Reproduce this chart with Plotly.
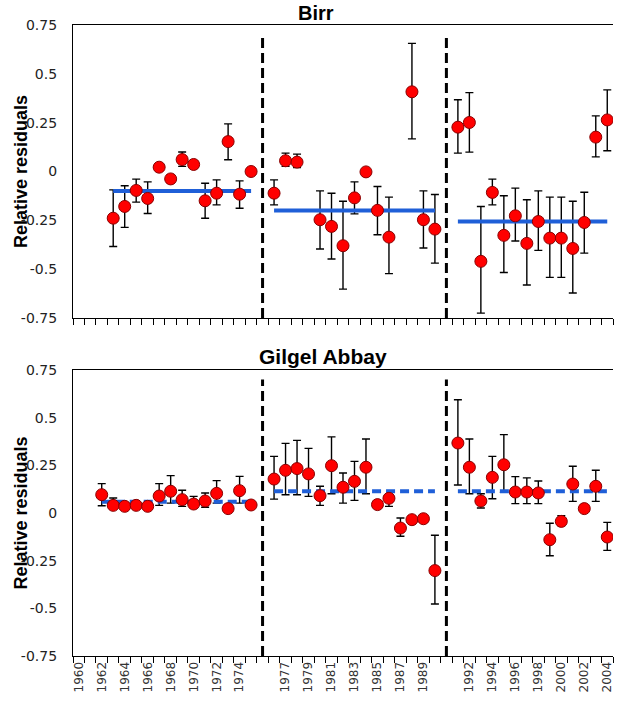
import plotly.graph_objects as go
from plotly.subplots import make_subplots

# ---------------- data ----------------
categories = ([str(y) for y in range(1960, 1976)] + [""] +
              [str(y) for y in range(1976, 1991)] + [""] +
              [str(y) for y in range(1991, 2005)])

birr_years = list(range(1963, 1979)) + list(range(1980, 1987)) + list(range(1988, 2005))
birr_values = [-0.239, -0.179, -0.097, -0.138, 0.022, -0.038, 0.061, 0.036, -0.150, -0.111,
               0.153, -0.116, 0.0, -0.111, 0.055, 0.048, -0.247, -0.281, -0.380, -0.135,
               -0.002, -0.199, -0.336, 0.408, -0.247, -0.295, 0.227, 0.251, -0.460, -0.107,
               -0.327, -0.227, -0.368, -0.256, -0.341, -0.341, -0.394, -0.261, 0.176, 0.264]
birr_upper = [-0.094, -0.073, -0.039, -0.053, 0.022, -0.017, 0.100, 0.048, -0.060, -0.043,
              0.244, -0.048, 0.0, -0.043, 0.094, 0.089, -0.099, -0.111, -0.152, -0.053,
              -0.002, -0.077, -0.131, 0.656, -0.099, -0.118, 0.367, 0.404, -0.179, -0.039,
              -0.124, -0.085, -0.145, -0.099, -0.131, -0.131, -0.152, -0.106, 0.285, 0.418]
birr_lower = [-0.384, -0.286, -0.157, -0.215, 0.022, -0.056, 0.026, 0.017, -0.239, -0.171,
              0.060, -0.188, 0.0, -0.171, 0.026, 0.020, -0.397, -0.448, -0.602, -0.217,
              -0.002, -0.324, -0.523, 0.167, -0.392, -0.469, 0.094, 0.099, -0.725, -0.171,
              -0.517, -0.356, -0.581, -0.404, -0.542, -0.542, -0.622, -0.418, 0.075, 0.106]
birr_periods = [(1963, 1975), (1976, 1990), (1991, 2004)]
birr_means = [-0.10, -0.20, -0.256]

gilgel_years = list(range(1962, 2005))
gilgel_values = [0.096, 0.040, 0.035, 0.040, 0.035, 0.089, 0.114, 0.070, 0.047, 0.063,
                 0.103, 0.023, 0.117, 0.042, 0.178, 0.224, 0.233, 0.205, 0.091, 0.248,
                 0.135, 0.166, 0.240, 0.044, 0.077, -0.079, -0.035, -0.030, -0.302, 0.367,
                 0.240, 0.063, 0.187, 0.253, 0.110, 0.110, 0.105, -0.140, -0.044, 0.152,
                 0.023, 0.140, -0.126]
gilgel_upper = [0.154, 0.079, 0.040, 0.045, 0.038, 0.154, 0.196, 0.119, 0.087, 0.105,
                0.170, 0.023, 0.192, 0.042, 0.297, 0.365, 0.381, 0.339, 0.140, 0.399,
                0.210, 0.271, 0.388, 0.055, 0.096, -0.026, -0.014, -0.009, -0.117, 0.594,
                0.388, 0.101, 0.297, 0.411, 0.191, 0.184, 0.168, -0.054, -0.014, 0.245,
                0.023, 0.224, -0.049]
gilgel_lower = [0.038, 0.026, 0.030, 0.035, 0.032, 0.040, 0.052, 0.035, 0.028, 0.030,
                0.052, 0.023, 0.052, 0.042, 0.073, 0.096, 0.096, 0.087, 0.040, 0.101,
                0.052, 0.066, 0.101, 0.035, 0.035, -0.122, -0.056, -0.049, -0.477, 0.147,
                0.101, 0.026, 0.075, 0.108, 0.049, 0.049, 0.049, -0.224, -0.066, 0.061,
                0.023, 0.061, -0.196]
gilgel_periods = [(1962, 1975), (1976, 1990), (1991, 2004)]
gilgel_means = [0.059, 0.114, 0.114]

break_positions = [i for i, c in enumerate(categories) if c == ""]
tick_positions = [i for i in range(0, len(categories), 2) if categories[i] != ""]
tick_labels = [categories[i] for i in tick_positions]

y_ticks = [0.75, 0.5, 0.25, 0, -0.25, -0.5, -0.75]
y_ticktext = ["0.75", "0.5", "0.25", "0", "-0.25", "-0.5", "-0.75"]


def pos(year):
    return categories.index(str(year))


RED = "#ff0000"
BLUE = "#1f5fd8"

# pixel layout (body margin removed by post_script)
W, H = 619, 702
X_LEFT, X_RIGHT = 72.5, 613
Y_TOP, Y_BOT = 25, 656
L, R = X_LEFT, W - X_RIGHT
T, B = Y_TOP, H - Y_BOT
plot_h = H - T - B
plot_w = W - L - R
top_dom = [(Y_BOT - 318) / plot_h, 1.0]
bot_dom = [0.0, (Y_BOT - 370) / plot_h]

fig = make_subplots(rows=2, cols=1, vertical_spacing=0.08)

panels = [
    (1, birr_years, birr_values, birr_upper, birr_lower, birr_periods, birr_means, "solid"),
    (2, gilgel_years, gilgel_values, gilgel_upper, gilgel_lower, gilgel_periods, gilgel_means, "9px,5px"),
]

for row, yrs, vals, up, lo, periods, means, dash in panels:
    xs = [pos(y) for y in yrs]
    fig.add_trace(go.Scatter(
        x=xs, y=vals, mode="markers", marker=dict(size=1, color="rgba(0,0,0,0)"),
        error_y=dict(type="data", symmetric=False,
                     array=[u - v for u, v in zip(up, vals)],
                     arrayminus=[v - l for v, l in zip(vals, lo)],
                     color="black", thickness=1.4, width=4),
        showlegend=False, hoverinfo="skip"), row=row, col=1)
    for (a, b), m in zip(periods, means):
        fig.add_trace(go.Scatter(
            x=[pos(a), pos(b)], y=[m, m], mode="lines",
            line=dict(color=BLUE, width=4, dash=dash),
            showlegend=False), row=row, col=1)
    fig.add_trace(go.Scatter(
        x=xs, y=vals, mode="markers",
        marker=dict(size=12, color=RED, line=dict(color="#8a0000", width=1)),
        showlegend=False), row=row, col=1)

for row in (1, 2):
    fig.update_xaxes(
        row=row, col=1, range=[-0.5, len(categories) - 0.5], automargin=False,
        tickmode="array", tickvals=tick_positions,
        ticktext=tick_labels if row == 2 else [""] * len(tick_positions),
        showticklabels=(row == 2), tickangle=-90, ticks="",
        tickfont=dict(family="DejaVu Sans", size=12, color="#333333"),
        minor=dict(ticks="outside", tick0=-0.5, dtick=1, ticklen=6, tickwidth=1,
                   tickcolor="black", showgrid=False),
        showline=True, linecolor="black", linewidth=1.2, mirror=True,
        showgrid=False, zeroline=False)
    fig.update_yaxes(
        row=row, col=1, range=[-0.75, 0.75], automargin=False,
        domain=top_dom if row == 1 else bot_dom,
        tickmode="array", tickvals=y_ticks, ticktext=y_ticktext,
        tickfont=dict(family="DejaVu Sans", size=14, color="#222222"),
        ticks="", ticklabelstandoff=12,
        showline=True, linecolor="black", linewidth=1.2,
        showgrid=False, zeroline=False)
    yref = "y" if row == 1 else "y2"
    xref = "x" if row == 1 else "x2"
    for bp in break_positions:
        fig.add_shape(type="line", xref=xref, yref=yref, x0=bp, x1=bp, y0=-0.75, y1=0.70,
                      line=dict(color="black", width=3, dash="10px,5px"))
    # y-axis title, centred on the panel
    fig.add_annotation(text="<b>Relative residuals</b>", xref="paper", yref=yref,
                       x=(20 - L) / plot_w, y=0, xanchor="center", yanchor="middle",
                       textangle=-90, showarrow=False,
                       font=dict(family="Liberation Sans", size=18, color="black"))

fig.add_annotation(text="<b>Birr</b>", xref="paper", yref="paper",
                   x=(316 - L) / plot_w, y=(Y_BOT - 13) / plot_h, yanchor="middle",
                   showarrow=False, font=dict(family="Liberation Sans", size=20, color="black"))
fig.add_annotation(text="<b>Gilgel Abbay</b>", xref="paper", yref="paper",
                   x=(323 - L) / plot_w, y=(Y_BOT - 357) / plot_h, yanchor="middle",
                   showarrow=False, font=dict(family="Liberation Sans", size=21, color="black"))

fig.update_layout(
    width=W, height=H,
    margin=dict(l=L, r=R, t=T, b=B, autoexpand=False),
    paper_bgcolor="white", plot_bgcolor="white",
    font=dict(family="DejaVu Sans"),
)

fig.write_html("out.html", config={"displayModeBar": False},
               post_script="document.body.style.margin='0';document.body.style.padding='0';")
